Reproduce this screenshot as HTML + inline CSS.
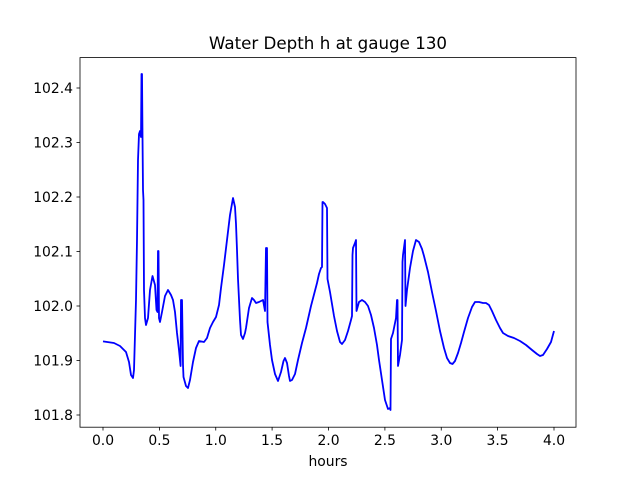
<!DOCTYPE html>
<html><head><meta charset="utf-8"><style>body{margin:0;background:#fff}svg{display:block}text{font-family:"DejaVu Sans","Liberation Sans",sans-serif;font-size:13.9px;fill:#000}</style></head><body>
<svg width="640" height="480" viewBox="0 0 640 480">
<rect width="640" height="480" fill="#fff"/>
<text x="328" y="49" text-anchor="middle" style="font-size:16.7px">Water Depth h at gauge 130</text>
<polyline fill="none" stroke="#0000ff" stroke-width="1.8" stroke-linejoin="round" points="103,341.4 114,343 120,346 126,352 129,362 131,375 133,378 134,370 136,300 137,240 138,160 139,134 140,131 141,137 141.5,74 142,74 142.5,136 143,190 143.5,200 144,290 145,318 146,325 148,318 150,290 152.5,276 155,285 156.5,310 157.5,312 158,251 158.5,251 159,318 160,322 162,312 165,296 168,290 171,295 173,300 175,312 177,333 179,350 180.6,366 181,300 182,300 183,365 183.5,377 186,386 188,388 190,380 193,362 196,348 199,341 204,342 207,338 210,328 213,322 216,317 219,305 221,288 224,265 227,240 230,215 233,198 235,207 236,224 237,250 238,279 240,320 241,335 243,339 245,333 246,328 249,308 252,298 254,300 256,303 259,302 263,300 265,311 266,248 267,248 267.5,322 270,345 272,360 275,374 278,381 281,372 283.5,361 285,358 287,363 289,376 290,381 292,380 295,374 298,360 302,343 306,328 311,306 317,283 319,274 321,268 322,267 322.5,202 323,202 325,204 327,208 327.5,279 330,292 334,316 337,331 340,342 342,344 345,340 348,331 351,320 352,316 352.5,255 353,248 355,243 356,240 356.5,311 359,302 362,300 365,302 368,306 371,315 374,328 377,345 379,360 382,380 385,400 388,409 390,408 390.5,410 391,339 393,333 396,318 397,300 397.5,300 398,366 400,355 402,340 402.5,262 403,255 405,240 405.5,306 407,290 410,268 413,251 416,240 419,242 422,249 424,256 428,272 432,292 436,311 440,331 444,348 447,358 450,363 452.5,364 455,361 458,353 461,343 464,332 468,318 472,307 475,302 479,302 483,303 486,303 489,305 492,311 496,320 500,328 503,333 508,336 514,338 520,341 526,345 532,350 537,354 540,356 543,355 547,349 551,342 554,331"/>
<rect x="80" y="57.6" width="496" height="369.6" fill="none" stroke="#000" stroke-width="0.8"/>
<g stroke="#000" stroke-width="0.8">
<line x1="103" y1="427" x2="103" y2="430.5"/><line x1="159.4" y1="427" x2="159.4" y2="430.5"/><line x1="215.75" y1="427" x2="215.75" y2="430.5"/><line x1="272.1" y1="427" x2="272.1" y2="430.5"/><line x1="328.5" y1="427" x2="328.5" y2="430.5"/><line x1="384.9" y1="427" x2="384.9" y2="430.5"/><line x1="441.25" y1="427" x2="441.25" y2="430.5"/><line x1="497.6" y1="427" x2="497.6" y2="430.5"/><line x1="554" y1="427" x2="554" y2="430.5"/>
<line x1="76.5" y1="415" x2="80" y2="415"/><line x1="76.5" y1="360.5" x2="80" y2="360.5"/><line x1="76.5" y1="306" x2="80" y2="306"/><line x1="76.5" y1="251.5" x2="80" y2="251.5"/><line x1="76.5" y1="197" x2="80" y2="197"/><line x1="76.5" y1="142.5" x2="80" y2="142.5"/><line x1="76.5" y1="88" x2="80" y2="88"/>
</g>
<g text-anchor="middle">
<text x="103" y="445">0.0</text><text x="159.4" y="445">0.5</text><text x="215.75" y="445">1.0</text><text x="272.1" y="445">1.5</text><text x="328.5" y="445">2.0</text><text x="384.9" y="445">2.5</text><text x="441.25" y="445">3.0</text><text x="497.6" y="445">3.5</text><text x="554" y="445">4.0</text>
<text x="328" y="466">hours</text>
</g>
<g text-anchor="end">
<text x="73" y="420">101.8</text><text x="73" y="365.5">101.9</text><text x="73" y="311">102.0</text><text x="73" y="256.5">102.1</text><text x="73" y="202">102.2</text><text x="73" y="147.5">102.3</text><text x="73" y="93">102.4</text>
</g>
</svg>
</body></html>
